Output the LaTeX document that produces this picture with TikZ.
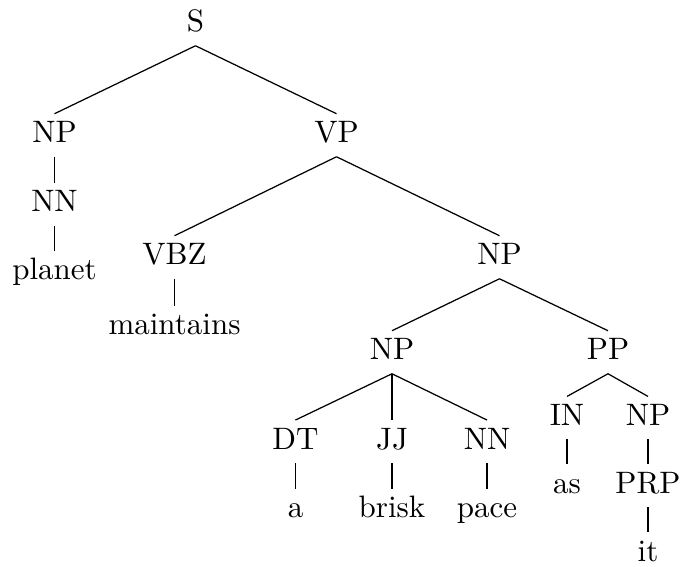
\documentclass[tikz,border=0pt]{standalone}
\begin{document}
\begin{tikzpicture}[x=0.3226pt,y=-0.3226pt,
  cat/.style={anchor=base,inner xsep=0pt,inner ysep=2.3pt,
              text height=6.94pt,text depth=1.94pt},
  branch/.style={line width=0.4pt}]
\useasboundingbox (0,0) rectangle (680,567);
% phrase and word nodes (x centre, baseline)
\node[cat] (S)      at (195.5,32)    {S};
\node[cat] (NPa)    at (54.5,143)    {NP};
\node[cat] (VP)     at (336.5,143)   {VP};
\node[cat] (NNa)    at (54.5,212)    {NN};
\node[cat] (planet) at (54.5,280)    {planet};
\node[cat] (VBZ)    at (174.5,265)   {VBZ};
\node[cat] (maint)  at (174.5,335)   {maintains};
\node[cat] (NPb)    at (499.5,265)   {NP};
\node[cat] (NPc)    at (392,360)     {NP};
\node[cat] (PP)     at (608,360)     {PP};
\node[cat] (DT)     at (295.5,449.3) {DT};
\node[cat] (JJ)     at (392,449.3)   {JJ};
\node[cat] (NNb)    at (487,449.3)   {NN};
\node[cat] (wa)     at (295.5,518)   {a};
\node[cat] (brisk)  at (392,518)     {brisk};
\node[cat] (pace)   at (487,518)     {pace};
\node[cat] (IN)     at (567,425.7)   {IN};
\node[cat] (NPd)    at (648,425.7)   {NP};
\node[cat] (as)     at (567,493.3)   {as};
\node[cat] (PRP)    at (648,493.3)   {PRP};
\node[cat] (it)     at (648,561.7)   {it};
% branches
\draw[branch] (S.south) -- (NPa.north);
\draw[branch] (S.south) -- (VP.north);
\draw[branch] (NPa.south) -- (NNa.north);
\draw[branch] (NNa.south) -- (planet.north);
\draw[branch] (VP.south) -- (VBZ.north);
\draw[branch] (VP.south) -- (NPb.north);
\draw[branch] (VBZ.south) -- (maint.north);
\draw[branch] (NPb.south) -- (NPc.north);
\draw[branch] (NPb.south) -- (PP.north);
\draw[branch] (NPc.south) -- (DT.north);
\draw[branch] (NPc.south) -- (JJ.north);
\draw[branch] (NPc.south) -- (NNb.north);
\draw[branch] (DT.south) -- (wa.north);
\draw[branch] (JJ.south) -- (brisk.north);
\draw[branch] (NNb.south) -- (pace.north);
\draw[branch] (PP.south) -- (IN.north);
\draw[branch] (PP.south) -- (NPd.north);
\draw[branch] (IN.south) -- (as.north);
\draw[branch] (NPd.south) -- (PRP.north);
\draw[branch] (PRP.south) -- (it.north);
\end{tikzpicture}
\end{document}
